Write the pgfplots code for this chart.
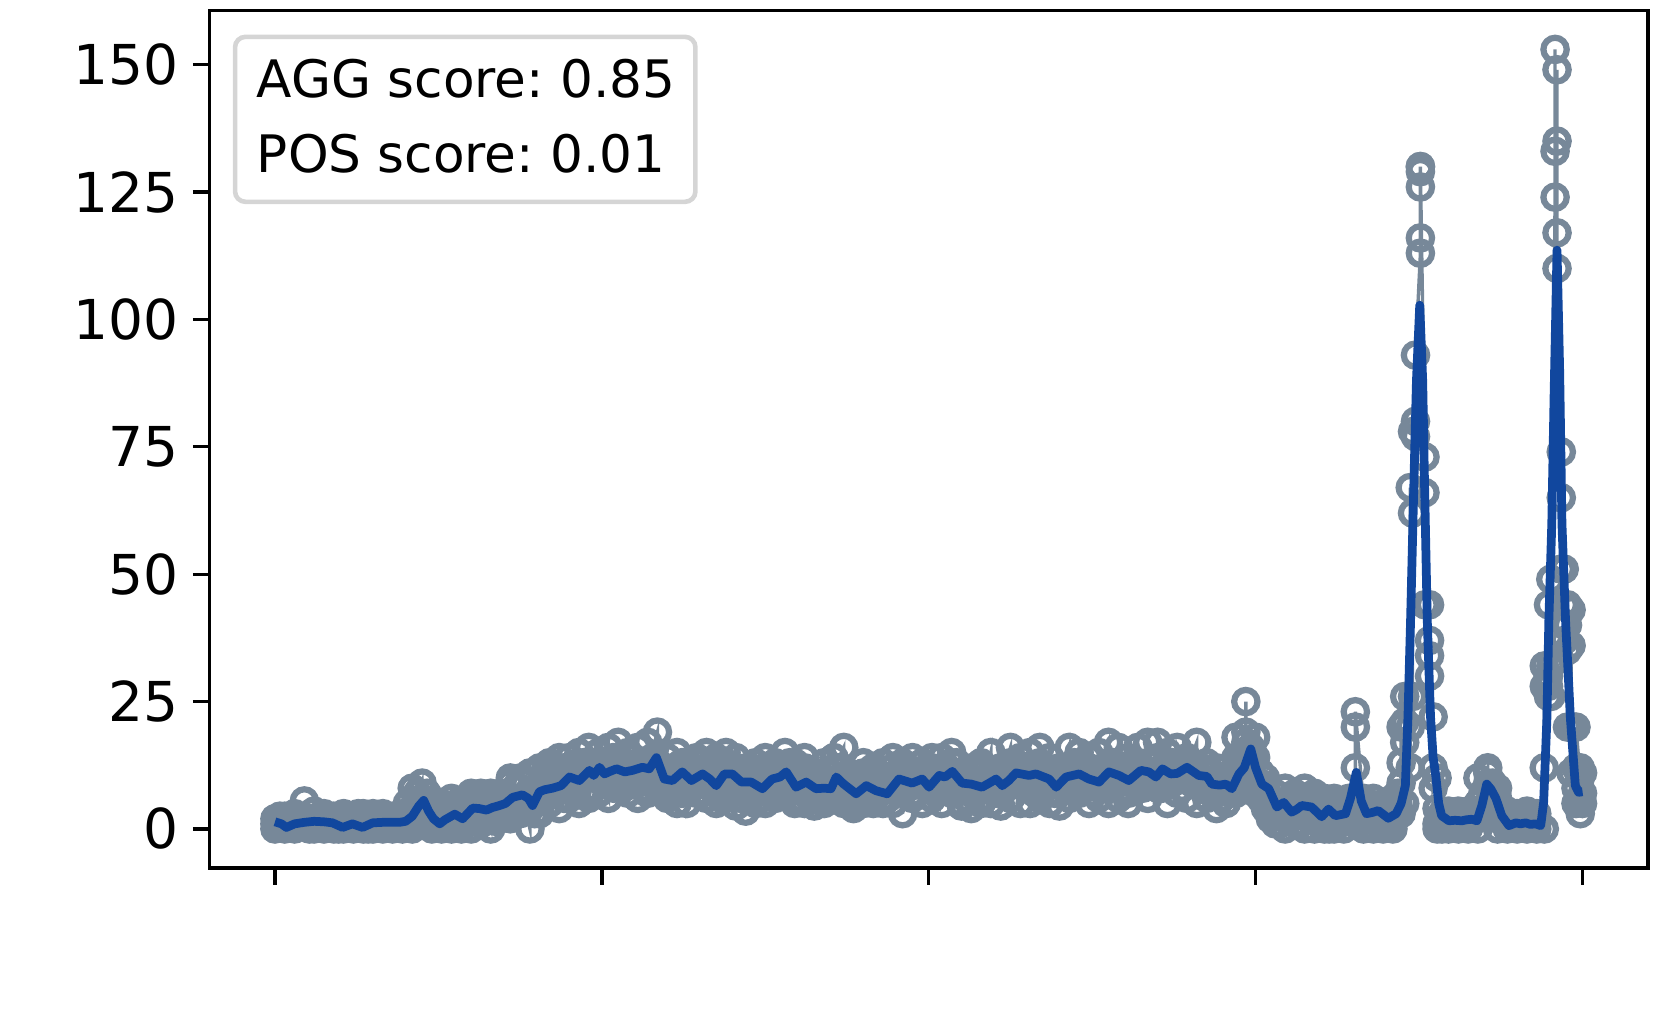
\documentclass[border=0pt]{standalone}
\usepackage{fontspec}
\setmainfont{DejaVu Sans}
\usepackage{pgfplots}
\pgfplotsset{compat=1.18}

\definecolor{rawgray}{HTML}{778899}
\definecolor{meanblue}{HTML}{11479E}
\definecolor{legedge}{HTML}{D5D5D5}

\newcommand{\lbl}{\fontsize{12.4}{14.8}\selectfont}
\newcommand{\tkl}{\fontsize{13.2}{15.8}\selectfont}
\frenchspacing

\begin{document}
\begin{tikzpicture}
\begin{axis}[
    name=main,
    scale only axis,
    width=345.2pt,
    height=205.8pt,
    xmin=-20, xmax=420,
    ymin=-7.65, ymax=160.65,
    xtick={0,100,200,300,400},
    xticklabels={},
    ytick={0,25,...,150},
    tick pos=left,
    tick align=outside,
    major tick length=4pt,
    tick style={black, line width=0.8pt},
    axis line style={line width=0.8pt},
    yticklabel style={font=\tkl},
    /pgf/number format/assume math mode=true,
    clip marker paths=true,
    raw/.style={color=rawgray, line width=0.8pt, mark=o, mark size=2.8pt,
                mark options={line width=1.5pt, solid}},
  ]

  % raw samples, grouped by x
  \addplot[raw] coordinates {
    (0,2)(0,0)(0,1) (3,0)(3,2.5)(3,1) (6,1.5)(6,0)(6,3) (9,0.5)(9,5.5)(9,1)
    (12,2)(12,0)(12,3.5) (15,0)(15,1.5)(15,3) (18,2.5)(18,0)(18,1)
    (21,0)(21,1)(21,3) (24,1.5)(24,0)(24,2.5) (27,0)(27,3)(27,0.5)
    (30,2)(30,0)(30,3) (33,0)(33,1.5)(33,3) (36,2.5)(36,0)(36,1) (39,0)(39,3)(39,1.5)
    (42,4)(42,0)(42,8)(42,2) (45,9)(45,1)(45,6)(45,5) (48,3)(48,0)(48,5)(48,1)
    (51,0)(51,3)(51,5)(51,1) (54,4)(54,0)(54,6)(54,2) (57,1)(57,5)(57,0)(57,3)
    (60,6)(60,2)(60,0)(60,7) (63,3)(63,7)(63,1)(63,5) (66,0)(66,6)(66,4)(66,7)
    (69,7)(69,2)(69,5)(69,3) (72,4)(72,9)(72,2)(72,10) (75,10)(75,3)(75,6)(75,8)
    (78,0)(78,7)(78,11)(78,4) (81,8)(81,12)(81,3)(81,6)
    (84,5)(84,11)(84,9)(84,13) (87,12)(87,4)(87,8)(87,14) (90,6)(90,14)(90,10)(90,11)
    (93,13)(93,5)(93,9)(93,15) (96,8)(96,16)(96,12)(96,6) (99,15)(99,7)(99,13)(99,11)
    (102,6)(102,12)(102,16)(102,10) (105,14)(105,8)(105,11)(105,17)
    (108,7)(108,15)(108,12)(108,10) (111,16)(111,9)(111,13)(111,6)
    (114,10)(114,17)(114,7)(114,12) (117,19)(117,8)(117,13)(117,11)
    (120,6)(120,11)(120,14)(120,8) (123,12)(123,5)(123,15)(123,9)
    (126,8)(126,13)(126,10)(126,5) (129,14)(129,7)(129,11)(129,9)
    (132,6)(132,12)(132,15)(132,9) (135,10)(135,5)(135,14)(135,7)
    (138,13)(138,8)(138,15)(138,6) (141,4.5)(141,11)(141,9)(141,14)
    (144,12)(144,3.5)(144,10)(144,7) (147,7)(147,13)(147,5)(147,11)
    (150,9)(150,5)(150,12)(150,14) (153,13)(153,6)(153,10)(153,8)
    (156,11)(156,15)(156,7)(156,12) (159,5)(159,10)(159,13)(159,6)
    (162,12)(162,7)(162,14)(162,5) (165,6)(165,11)(165,4.5)(165,9)
    (168,10)(168,5)(168,13)(168,7) (171,8)(171,14)(171,6)(171,12)
    (174,16)(174,5)(174,9)(174,7) (177,5)(177,10)(177,4)(177,8)
    (180,11)(180,6)(180,13)(180,5) (183,7)(183,12)(183,5)(183,9)
    (186,5)(186,10)(186,13)(186,6) (189,12)(189,5)(189,9)(189,14)
    (192,3)(192,11)(192,8)(192,13) (195,9)(195,14)(195,6)(195,7)
    (198,13)(198,5)(198,11)(198,10) (201,6)(201,12)(201,9)(201,14)
    (204,14)(204,8)(204,12)(204,5) (207,10)(207,15)(207,7)(207,13)
    (210,5)(210,11)(210,9)(210,4.5) (213,12)(213,7)(213,4)(213,10)
    (216,9)(216,5)(216,13)(216,6) (219,15)(219,8)(219,5)(219,11)
    (222,7)(222,12)(222,4.5)(222,10) (225,16)(225,9)(225,13)(225,6)
    (228,11)(228,5)(228,14)(228,12) (231,8)(231,15)(231,10)(231,5)
    (234,13)(234,6)(234,16)(234,7) (237,5)(237,11)(237,14)(237,9)
    (240,10)(240,4.5)(240,12)(240,7) (243,16)(243,8)(243,11)(243,6)
    (246,7)(246,13)(246,10)(246,15) (249,12)(249,5)(249,14)(249,9)
    (252,8)(252,15)(252,6)(252,11) (255,17)(255,10)(255,13)(255,5)
    (258,6)(258,12)(258,16)(258,9) (261,14)(261,7)(261,11)(261,5)
    (264,9)(264,16)(264,12)(264,8) (267,13)(267,6)(267,17)(267,10)
    (270,8)(270,14)(270,11)(270,17) (273,12)(273,5)(273,15)(273,9)
    (276,7)(276,13)(276,10)(276,16) (279,10)(279,14)(279,6)(279,12)
    (282,17)(282,9)(282,5)(282,11) (285,6)(285,11)(285,8)(285,13)
    (288,9)(288,4)(288,12)(288,7) (291,5)(291,10)(291,8)(291,12)
    (294,14)(294,7)(294,18)(294,10) (297,17)(297,12)(297,25)(297,19)(297,15)
    (300,18)(300,9)(300,14)(300,7) (303,6)(303,10)(303,4)(303,8)
    (306,3)(306,7)(306,1)(306,5) (309,8)(309,2)(309,5)(309,0)
    (312,4)(312,7)(312,1)(312,3) (315,6)(315,0)(315,8)(315,3)
    (318,2)(318,5)(318,0)(318,7) (321,4)(321,1)(321,6)(321,0)
    (324,0)(324,5)(324,2)(324,6) (327,3)(327,0)(327,5)(327,2)
    (330.5,1)(330.5,6)(330.5,12)(330.5,20)(330.5,23)
    (333,5)(333,0)(333,3)(333,6) (336,2)(336,6)(336,0)(336,4)
    (339,0)(339,3)(339,5)(339,1) (342,5)(342,0)(342,2)(342,6)
    (344.5,3)(344.5,9)(344.5,13)(344.5,20) (345.6,5)(345.6,17)(345.6,21)(345.6,26)
    (347.3,12)(347.3,20)(347.3,67) (348,26)(348,62)(348,78) (348.9,77)(348.9,80)(348.9,93)
    (350.4,113)(350.4,116)(350.4,126)(350.4,129)(350.4,130)(350.4,130)
    (351.8,73)(351.8,66)(351.8,44) (353.2,44)(353.2,37)(353.2,34)(353.2,30)
    (354.3,22)(354.3,12)(354.3,8) (355.5,10)(355.5,4)(355.5,1)(355.5,0) (357,0)(357,3)(357,1)
    (359,0)(359,2)(359,3.5)(359,1) (362,3)(362,0)(362,2)(362,3.5)
    (365,1)(365,3.5)(365,0)(365,2) (368,3)(368,0)(368,10)(368,5)
    (371,12)(371,11)(371,9)(371,3) (374,8)(374,2)(374,6)(374,0)
    (377,0)(377,3)(377,1)(377,3.5) (380,2)(380,0)(380,3)(380,1)
    (383,0)(383,2)(383,3.5)(383,1) (386,3)(386,0)(386,1)(386,2)
    (388.3,0)(388.3,12)(388.3,32)(388.3,28) (389.6,28)(389.6,44)(389.6,26)(389.6,30)
    (390.3,49)(390.3,32)(390.3,26) (391.6,124)(391.6,153)(391.6,133)
    (392.2,149)(392.2,135)(392.2,117)(392.2,110) (393.5,74)(393.5,65)(393.5,51)
    (394.4,51)(394.4,44)(394.4,40)(394.4,37) (395.4,40)(395.4,35)(395.4,44)(395.4,20)
    (396.5,43)(396.5,36)(396.5,20)(396.5,11) (398,12)(398,8)(398,5)(398,20)
    (399.3,10)(399.3,12)(399.3,6)(399.3,3) (400,7)(400,11)(400,5)
  };

  % raw samples at the in-between positions
  \addplot[raw] coordinates {
    (1.5,1)(1.5,2.5) (4.5,0.5)(4.5,2) (7.5,1)(7.5,2.5) (10.5,0)(10.5,2)
    (13.5,1)(13.5,2.5) (16.5,0.5)(16.5,2) (19.5,1.5)(19.5,0) (22.5,2)(22.5,0.5)
    (25.5,1)(25.5,3) (28.5,1.5)(28.5,0) (31.5,1)(31.5,2.5) (34.5,0.5)(34.5,2)
    (37.5,1)(37.5,2.5)
    (40.5,1)(40.5,3)(40.5,5) (43.5,3)(43.5,7)(43.5,5) (46.5,2)(46.5,4)(46.5,7)
    (49.5,2)(49.5,0.5)(49.5,4) (52.5,1.5)(52.5,4)(52.5,2.5) (55.5,3)(55.5,1)(55.5,5)
    (58.5,2)(58.5,4)(58.5,6) (61.5,3)(61.5,5)(61.5,1.5) (64.5,4.5)(64.5,2)(64.5,6)
    (67.5,3)(67.5,5.5)(67.5,1.5) (70.5,4)(70.5,6)(70.5,2.5) (73.5,5)(73.5,8)(73.5,3)
    (76.5,6)(76.5,4)(76.5,9) (79.5,5)(79.5,8)(79.5,3) (82.5,6)(82.5,9)(82.5,11)
    (85.5,7)(85.5,10)(85.5,12) (88.5,9)(88.5,6)(88.5,12) (91.5,8)(91.5,12)(91.5,10)
    (94.5,11)(94.5,7)(94.5,13) (97.5,10)(97.5,13)(97.5,8) (100.5,9)(100.5,13)(100.5,11)
    (103.5,8)(103.5,12)(103.5,14) (106.5,10)(106.5,13)(106.5,8) (109.5,11)(109.5,14)(109.5,9)
    (112.5,13)(112.5,8)(112.5,11) (115.5,9)(115.5,12)(115.5,14) (118.5,10)(118.5,12)(118.5,7)
    (121.5,9)(121.5,12)(121.5,7) (124.5,10)(124.5,13)(124.5,7) (127.5,8)(127.5,11)(127.5,12)
    (130.5,10)(130.5,7)(130.5,13)
    (133.5,8)(133.5,11)(133.5,13) (136.5,9)(136.5,12)(136.5,6) (139.5,10)(139.5,7)(139.5,12)
    (142.5,8)(142.5,11)(142.5,6) (145.5,9)(145.5,12)(145.5,6) (148.5,8)(148.5,10)(148.5,6)
    (151.5,7)(151.5,10)(151.5,12) (154.5,9)(154.5,12)(154.5,7) (157.5,8)(157.5,11)(157.5,13)
    (160.5,8)(160.5,11)(160.5,6) (163.5,9)(163.5,7)(163.5,11) (166.5,8)(166.5,10)(166.5,6)
    (169.5,7)(169.5,9)(169.5,11) (172.5,10)(172.5,7)(172.5,12) (175.5,8)(175.5,11)(175.5,6)
    (178.5,7)(178.5,9)(178.5,5) (181.5,8)(181.5,10)(181.5,6) (184.5,7)(184.5,9)(184.5,11)
    (187.5,8)(187.5,6)(187.5,10) (190.5,9)(190.5,11)(190.5,7) (193.5,10)(193.5,8)(193.5,12)
    (196.5,9)(196.5,11)(196.5,7) (199.5,8)(199.5,10)(199.5,12) (202.5,9)(202.5,11)(202.5,7)
    (205.5,10)(205.5,12)(205.5,8) (208.5,9)(208.5,11)(208.5,13) (211.5,8)(211.5,10)(211.5,6)
    (214.5,9)(214.5,7)(214.5,11) (217.5,8)(217.5,10)(217.5,12) (220.5,9)(220.5,11)(220.5,7)
    (223.5,8)(223.5,10)(223.5,12) (226.5,9)(226.5,11)(226.5,13) (229.5,10)(229.5,8)(229.5,12)
    (232.5,9)(232.5,11)(232.5,7) (235.5,10)(235.5,12)(235.5,8) (238.5,9)(238.5,7)(238.5,11)
    (241.5,8)(241.5,10)(241.5,12) (244.5,9)(244.5,11)(244.5,13) (247.5,10)(247.5,8)(247.5,12)
    (250.5,9)(250.5,11)(250.5,7) (253.5,10)(253.5,12)(253.5,8) (256.5,11)(256.5,9)(256.5,13)
    (259.5,10)(259.5,8)(259.5,12) (262.5,9)(262.5,11)(262.5,13) (265.5,10)(265.5,12)(265.5,8)
    (268.5,11)(268.5,9)(268.5,13) (271.5,10)(271.5,12)(271.5,8)
    (274.5,9)(274.5,11)(274.5,13) (277.5,10)(277.5,12)(277.5,8) (280.5,11)(280.5,13)(280.5,9)
    (283.5,10)(283.5,8)(283.5,12) (286.5,9)(286.5,7)(286.5,11) (289.5,8)(289.5,10)(289.5,6)
    (292.5,9)(292.5,7)(292.5,11) (295.5,10)(295.5,12)(295.5,14) (298.5,12)(298.5,14)(298.5,16)
    (301.5,9)(301.5,11)(301.5,6)
    (304.5,4)(304.5,6)(304.5,2) (307.5,3)(307.5,5)(307.5,1) (310.5,2)(310.5,4)(310.5,6)
    (313.5,3)(313.5,5)(313.5,1) (316.5,2)(316.5,4)(316.5,6) (319.5,3)(319.5,1)(319.5,5)
    (322.5,2)(322.5,4)(322.5,0) (325.5,3)(325.5,1)(325.5,4) (328.5,2)(328.5,4)(328.5,6)
    (331.5,3)(331.5,5)(331.5,1) (334.5,2)(334.5,4)(334.5,0.5) (337.5,3)(337.5,1)(337.5,4)
    (340.5,2)(340.5,4)(340.5,0.5) (343.5,3)(343.5,5)(343.5,7)
  };
  \addplot[raw] coordinates {
    (360.5,1)(360.5,2.5) (363.5,0.5)(363.5,2) (366.5,1.5)(366.5,3) (369.5,4)(369.5,7)
    (372.5,6)(372.5,9)(372.5,3) (375.5,2)(375.5,4) (378.5,1)(378.5,2.5)
    (381.5,0.5)(381.5,2) (384.5,1.5)(384.5,3)
  };

  % mean curve
  \addplot[color=meanblue, line width=2.1pt, line join=round, no marks] coordinates {
    (0,1.4)(2,1.0)(3.5,0.3)(6,1.0)(9,1.3)(12,1.5)(15,1.4)(17.6,1.2)(20.7,0.3)
    (23.7,1.0)(26.8,0.3)(29.9,1.2)(33,1.3)(36,1.3)(38.1,1.3)(40,1.5)(42,2.5)
    (44,4.5)(45.5,5.6)(47,3.5)(48.5,2.0)(50.4,1.0)(52,1.8)(55,2.9)(57.4,2.0)
    (60.5,4.1)(62.5,4.0)(64.7,3.7)(66.5,4.2)(68.7,4.6)(70.5,5.0)(72.7,6.2)
    (75.7,6.7)(77.5,6.0)(78.8,4.6)(80.9,7.3)(82.5,7.7)(84.9,8.0)(87.5,8.5)
    (90.1,10.2)(93.1,9.5)(96.2,11.5)(97.5,10.5)(99.3,12.1)(100.8,10.8)(102.5,11.3)
    (104.5,11.8)(107,11.2)(109.4,11.5)(112.4,12.1)(114.5,11.8)(116.7,14.0)
    (119.1,9.8)(121.6,9.5)(124.6,11.2)(127.4,9.5)(130.8,10.8)(133,9.8)(135.0,8.5)
    (137.5,10.8)(139.9,10.8)(142.7,9.2)(145.7,9.2)(149.1,7.9)(152.1,9.8)
    (154.5,10.2)(156.4,11.2)(159.4,8.2)(162.5,9.2)(165.5,7.9)(168,8.0)(170.1,7.9)
    (171.7,10.2)(174,8.8)(177.8,6.9)(180.9,8.5)(183.9,7.5)(187.3,6.9)(190.9,9.8)
    (194.9,9.0)(198.0,9.8)(200.1,8.2)(203.2,10.5)(205,10.2)(207.2,11.3)(210.2,9.0)
    (213,8.8)(216.3,8.2)(218.5,9.0)(220.6,9.8)(222.5,8.5)(224.5,9.5)(226.7,11.0)
    (230.7,10.5)(232.8,10.8)(236.8,9.8)(239.0,8.2)(242.0,10.2)(246.0,10.8)
    (249.0,9.8)(252.1,9.2)(255.1,11.2)(258.2,10.5)(261.2,9.5)(264.9,11.5)
    (267.3,11.2)(269.5,10.2)(271.5,11.8)(274,10.8)(276,10.9)(279,12.1)(282.6,10.5)
    (285.1,10.3)(286.6,8.8)(289,8.6)(290.9,8.8)(292.7,7.9)(294.9,10.8)(296.5,12)
    (298.5,15.7)(300,12)(301.9,8.8)(304.0,7.9)(306.5,4.3)(308.6,5.2)(311.0,3.3)
    (312.5,3.8)(314.1,4.6)(317.1,4.3)(320.2,2.4)(322.3,3.9)(324.4,2.6)(327.5,3.0)
    (329,6)(330.8,11.1)(332.3,5.5)(333.9,3.0)(335.5,3.2)(337.5,3.6)(340.6,2.1)
    (343.0,3.0)(344.5,5.0)(345.8,8.5)(346.6,22)(347.4,41)(348.3,65)(349.2,88)
    (350.2,102.8)(351.1,88)(351.6,70)(352.5,41)(353.5,22)(354.3,14)(355.1,10.5)
    (356,5)(356.9,2.6)(359.1,1.6)(361,1.7)(363.1,1.6)(364.5,1.8)(366.1,1.9)
    (367.7,1.6)(369.2,4.6)(370.7,8.8)(372,7.8)(373.5,6.0)(375.3,2.6)(377.5,0.65)
    (379.6,1.2)(381,1.0)(382.6,1.2)(384,0.9)(385.7,1.0)(387.2,0.65)(388.1,5.2)
    (389.1,21.6)(389.7,41)(390.6,60)(391.3,85)(392.2,113.6)(393.0,90)(393.7,60)
    (394.8,41)(396.3,21.6)(397.8,8.5)(398.8,7.2)(400,7.3)
  };

  % text box in the upper left corner
  \draw[draw=legedge, line width=1.1pt, fill=white, rounded corners=2.5pt]
    (rel axis cs:0.0177,0.7768) rectangle (rel axis cs:0.3378,0.9692);
  \node[anchor=base west, inner sep=0pt, font=\lbl]
    at (rel axis cs:0.0323,0.8981) {AGG score: 0.85};
  \node[anchor=base west, inner sep=0pt, font=\lbl]
    at (rel axis cs:0.0323,0.8106) {POS score: 0.01};
\end{axis}
\pgfresetboundingbox
\path[use as bounding box]
  ([shift={(-50.3pt,-38.6pt)}]main.south west)
  rectangle ([shift={(2.9pt,2.5pt)}]main.north east);
\end{tikzpicture}
\end{document}
